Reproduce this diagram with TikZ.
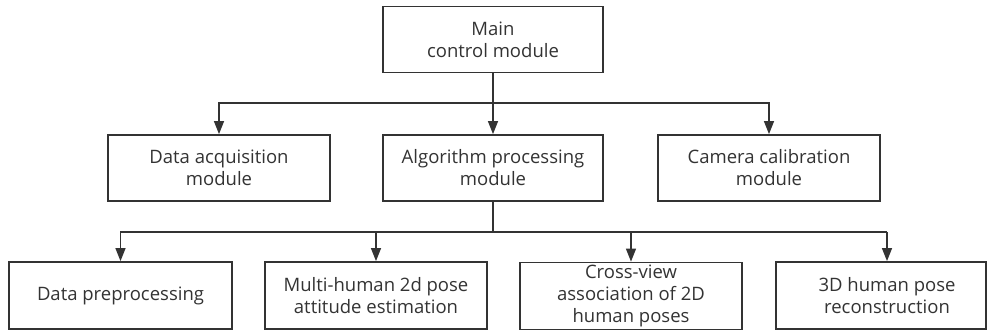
\documentclass[tikz,border=0pt]{standalone}
\usepackage{fontspec}
\setmainfont{Open Sans}
\usetikzlibrary{arrows.meta}
\definecolor{ink}{HTML}{333333}
\begin{document}
\begin{tikzpicture}[x=1pt,y=-1pt,
  box/.style={draw=ink,line width=1.8pt,rectangle,minimum width=220pt,minimum height=66pt,
    align=center,text=ink,font=\fontsize{18.5pt}{22pt}\selectfont,inner sep=0pt},
  conn/.style={draw=ink,line width=1.4pt},
  arr/.style={conn,-{Triangle[length=13pt,width=10pt]}}]
\useasboundingbox (0,0) rectangle (987,331);
\clip (0,0) rectangle (987,331);
\node[box] (main) at (493,39.5) {Main\\control module};
\node[box,minimum width=222pt] (acq) at (219,168) {Data acquisition\\module};
\node[box] (alg) at (493,168) {Algorithm processing\\module};
\node[box,minimum width=222pt] (cam) at (769,168) {Camera calibration\\module};
\node[box,minimum width=223pt,minimum height=67pt] (pre) at (120.5,295.5) {Data preprocessing};
\node[box,minimum width=222pt,minimum height=67pt] (multi) at (376,295.5) {Multi-human 2d pose\\attitude estimation};
\node[box,minimum width=222pt,minimum height=67pt] (cross) at (631,296) {Cross-view\\association of 2D\\human poses};
\node[box,minimum width=210pt,minimum height=67pt] (rec) at (881,295.5) {\hspace*{12pt}3D human pose\\\hspace*{12pt}reconstruction};
\coordinate (j1) at (493,103);
\coordinate (j2) at (493,232);
\coordinate (j3) at (887,232);
\draw[conn] (main.south) -- (j1);
\draw[arr] (j1) -- (alg.north);
\draw[arr] (j1) -| (acq.north);
\draw[arr] (j1) -| (cam.north);
\draw[conn] (alg.south) -- (j2);
\draw[arr] (j2) -| (pre.north);
\draw[arr] (j2) -| (multi.north);
\draw[arr] (j2) -| (cross.north);
\draw[conn] (j2) -- (j3);
\draw[arr] (j3) -- (j3 |- rec.north);
\end{tikzpicture}
\end{document}
